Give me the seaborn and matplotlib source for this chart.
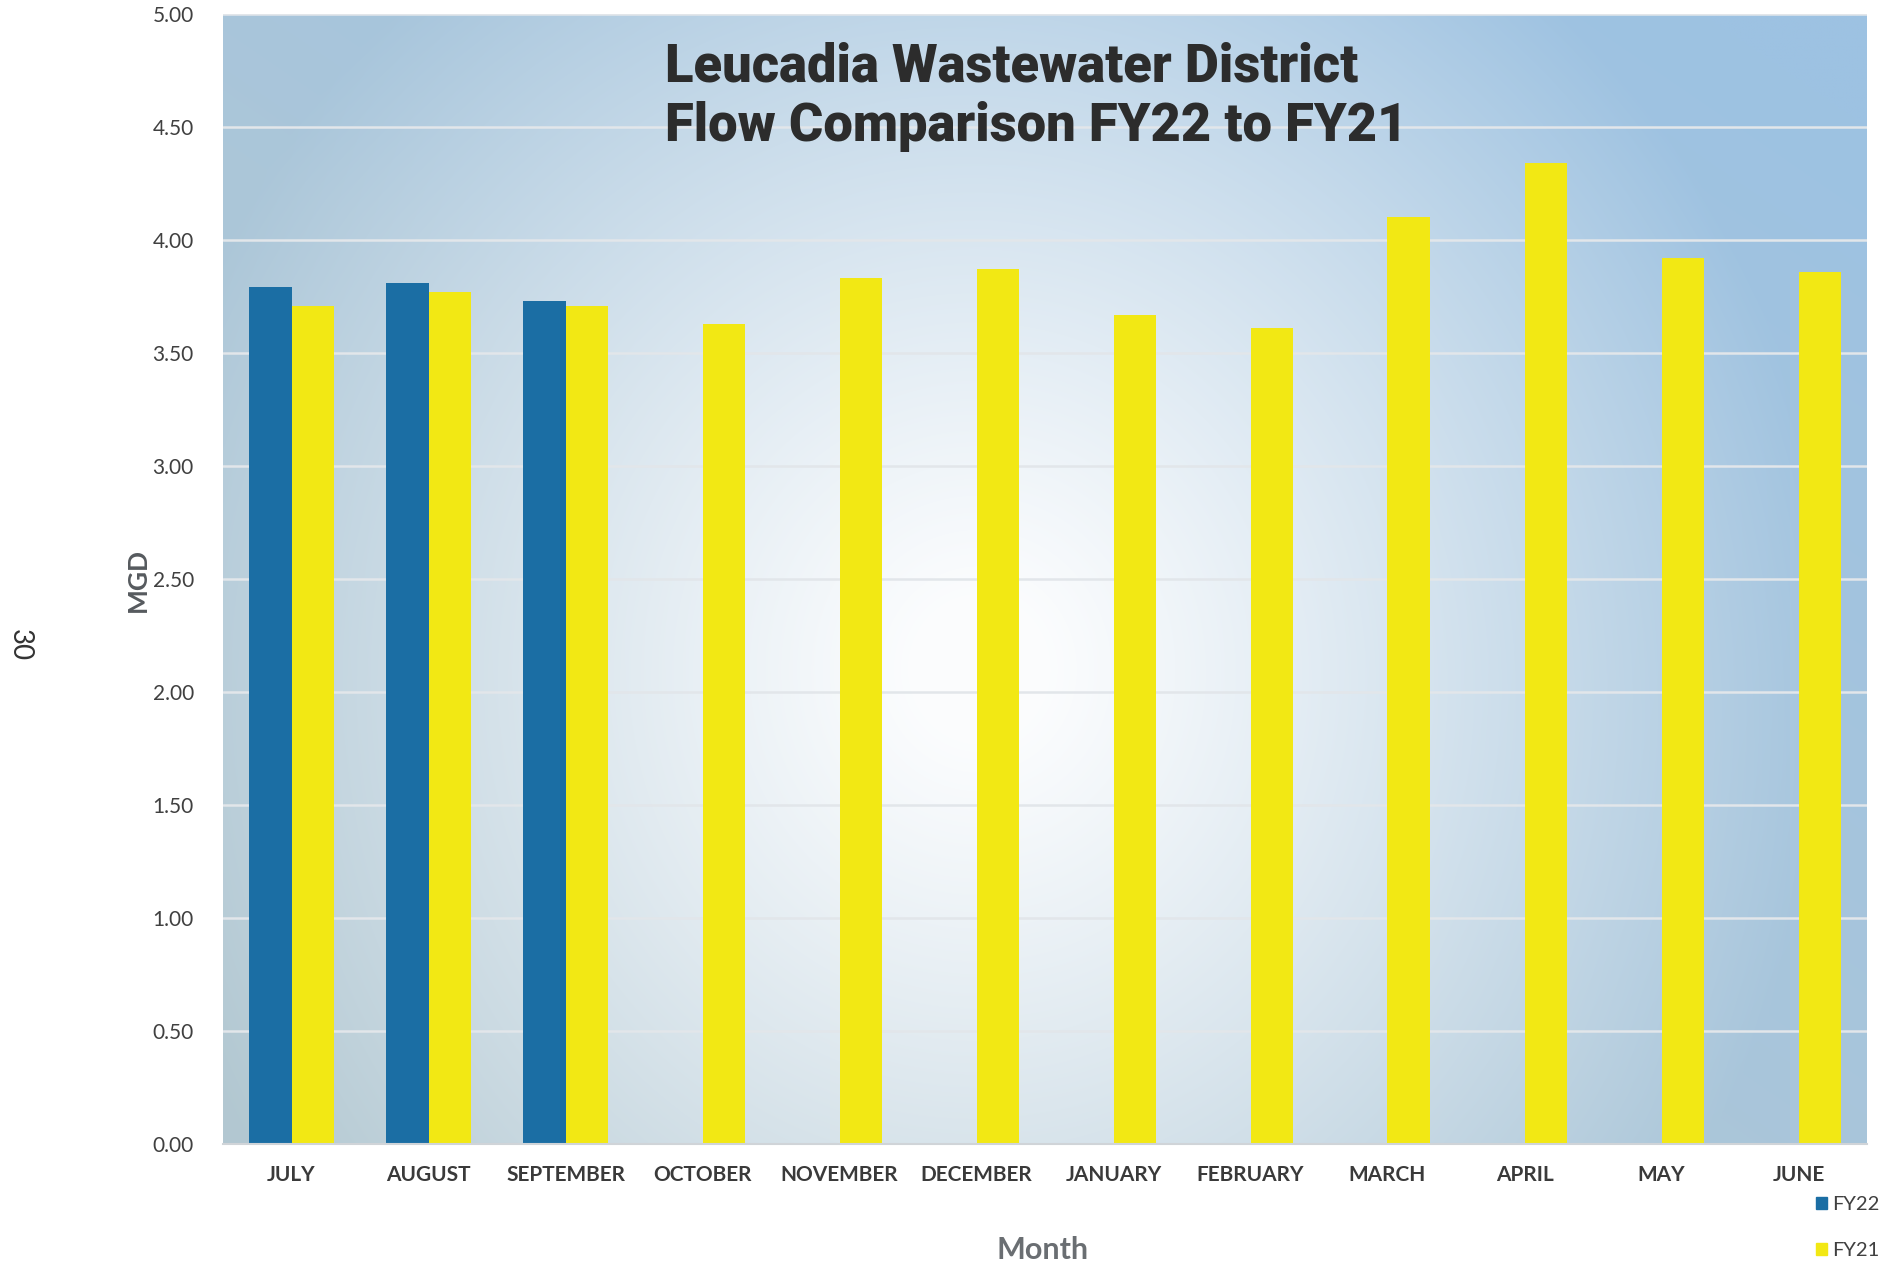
import numpy as np
import pandas as pd
import matplotlib
matplotlib.use("Agg")
import matplotlib.pyplot as plt
import seaborn as sns
from matplotlib.colors import to_rgb

months = ["JULY", "AUGUST", "SEPTEMBER", "OCTOBER", "NOVEMBER", "DECEMBER",
          "JANUARY", "FEBRUARY", "MARCH", "APRIL", "MAY", "JUNE"]
fy22 = [3.79, 3.81, 3.73, np.nan, np.nan, np.nan, np.nan, np.nan, np.nan, np.nan, np.nan, np.nan]
fy21 = [3.71, 3.77, 3.71, 3.63, 3.83, 3.87, 3.67, 3.61, 4.10, 4.34, 3.92, 3.86]
series = ["FY22", "FY21"]
colors = {"FY22": "#1b6ea4", "FY21": "#f2e814"}
yticks = [0.0, 0.5, 1.0, 1.5, 2.0, 2.5, 3.0, 3.5, 4.0, 4.5, 5.0]
title_lines = ["Leucadia Wastewater District", "Flow Comparison FY22 to FY21"]

df = pd.DataFrame({
    "Month": months * 2,
    "Series": ["FY22"] * 12 + ["FY21"] * 12,
    "MGD": fy22 + fy21,
})

sns.set_theme(style="white")
plt.rcParams["font.family"] = ["Lato", "DejaVu Sans"]

fig = plt.figure(figsize=(18.8, 12.75), dpi=100)
pos = [223 / 1880, (1275 - 1144) / 1275, 1644 / 1880, (1144 - 14) / 1275]

# background gradient (scanned-look blue with bright centre)
bg = fig.add_axes(pos, zorder=0)
H, W = 400, 600
yy, xx = np.mgrid[0:1:H * 1j, 0:1:W * 1j]   # yy=0 at top row
cx, cy = 0.46, 0.58
r = np.sqrt(((xx - cx) / 0.52) ** 2 + ((yy - cy) / 0.80) ** 2)
t = np.clip((r - 0.08) / 0.92, 0, 1) ** 1.1
base = np.array(to_rgb("#aac6da"))
tr = np.array(to_rgb("#9dc2e2"))
bl = np.array(to_rgb("#b3c8d1"))
w_tr = np.clip((xx + (1 - yy)) - 0.9, 0, 1)[..., None]
w_bl = np.clip((1 - xx) + yy - 1.0, 0, 1)[..., None]
edge_map = base * (1 - w_tr - w_bl) + tr * w_tr + bl * w_bl
white = np.array([0.985, 0.99, 0.995])
img = white * (1 - t[..., None]) + edge_map * t[..., None]
bg.imshow(img, extent=[0, 1, 0, 1], aspect="auto", interpolation="bilinear")
bg.set_axis_off()

ax = fig.add_axes(pos, zorder=1)
ax.set_facecolor("none")
for v in yticks[1:]:
    ax.axhline(v, color="#e2e6ea", lw=1.8, zorder=0.5)

sns.barplot(data=df, x="Month", y="MGD", hue="Series", hue_order=series,
            palette=colors, order=months, width=0.62, saturation=1,
            errorbar=None, ax=ax, zorder=2, linewidth=0)

ax.set_ylim(0, 5.0)
ax.set_xlim(-0.5, 11.5)
ax.set_yticks(yticks)
ax.set_yticklabels([f"{v:.2f}" for v in yticks], fontsize=15, color="#404040")
ax.tick_params(axis="y", length=0, pad=21)
ax.tick_params(axis="x", length=0, pad=15)
for lab in ax.get_xticklabels():
    lab.set_fontsize(15)
    lab.set_color("#3a3a3a")
    lab.set_fontweight("bold")
for s in ["top", "right", "left"]:
    ax.spines[s].set_visible(False)
ax.spines["bottom"].set_color("#d0d4d8")
ax.spines["bottom"].set_linewidth(1.5)

ax.set_xlabel("")
ax.set_ylabel("")
fig.text(138 / 1880, 1 - 580 / 1275, "MGD", rotation=90, ha="center", va="center",
         fontsize=19, fontweight="bold", color="#565a5e")
fig.text(1043 / 1880, 1 - 1250 / 1275, "Month", ha="center", va="center",
         fontsize=22, fontweight="bold", color="#6a6e72")

title_font = ["Roboto", "DejaVu Sans"]
t1 = fig.text(665 / 1880, 1 - 67 / 1275, title_lines[0], ha="left", va="center",
              fontsize=30, fontweight=900, color="#2c2c2c", family=title_font)
t2 = fig.text(665 / 1880, 1 - 127 / 1275, title_lines[1], ha="left", va="center",
              fontsize=30, fontweight=900, color="#2c2c2c", family=title_font)
fig.canvas.draw()
rend = fig.canvas.get_renderer()
w1 = t1.get_window_extent(rend).width
scale = 692 / w1
t1.set_fontsize(30 * scale)
t2.set_fontsize(30 * scale)

fig.text(20 / 1880, 1 - 645 / 1275, "30", rotation=-90, ha="center", va="center",
         fontsize=20, color="#333333")

leg = ax.get_legend()
if leg is not None:
    leg.remove()
handles = [plt.Rectangle((0, 0), 1, 1, color=colors[s]) for s in series]
fig.legend(handles, series, loc="upper right", bbox_to_anchor=(1.0, 1 - 1196 / 1275),
           frameon=False, fontsize=14.5, handlelength=0.55, handleheight=0.55,
           handletextpad=0.3, labelspacing=1.45, borderaxespad=0, borderpad=0,
           labelcolor="#404040")

fig.savefig("out.png", dpi=100)
